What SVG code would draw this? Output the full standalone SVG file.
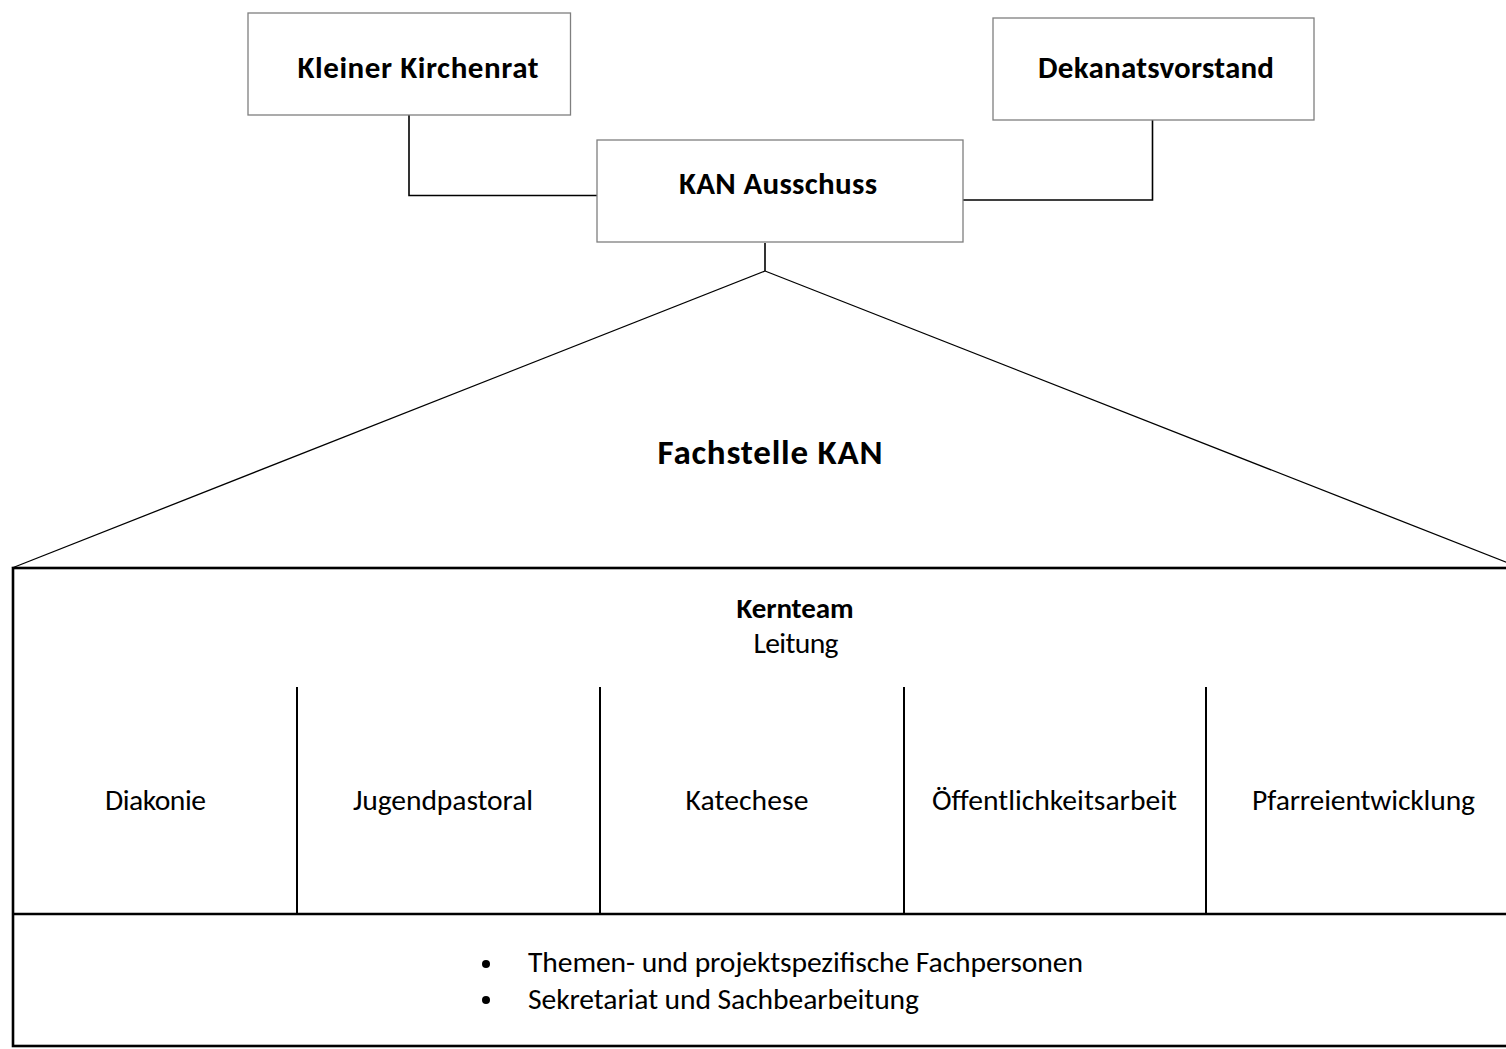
<svg xmlns="http://www.w3.org/2000/svg" width="1506" height="1049" viewBox="0 0 1506 1049">
<style>
  .box { fill: #ffffff; stroke: #7f7f7f; stroke-width: 1.3; }
  .conn { fill: none; stroke: #000000; stroke-width: 1.6; }
  .tri { fill: none; stroke: #000000; stroke-width: 1.3; }
  .frame { fill: none; stroke: #000000; stroke-width: 2.6; }
  .div { fill: none; stroke: #000000; stroke-width: 2; }
  text { font-family: Carlito, Lato, "Open Sans", sans-serif; fill: #000000; }
  .b { font-weight: bold; font-size: 31px; }
  .big { font-weight: bold; font-size: 35px; }
  .r { font-size: 29.6px; }
</style>
<rect width="1506" height="1049" fill="#ffffff"/>
<g id="connectors">
  <polyline class="conn" points="409,115 409,195.5 597,195.5"/>
  <polyline class="conn" points="1152.5,120 1152.5,200 963,200"/>
  <line class="conn" x1="765" y1="243" x2="765" y2="271"/>
  <line class="tri" x1="765" y1="271" x2="12" y2="568"/>
  <line class="tri" x1="765" y1="271" x2="1521" y2="568"/>
</g>
<g id="kleiner-kirchenrat">
  <rect class="box" x="248" y="13" width="322.5" height="102"/>
  <text class="b" x="418" y="78" text-anchor="middle" textLength="241">Kleiner Kirchenrat</text>
</g>
<g id="dekanatsvorstand">
  <rect class="box" x="993" y="18" width="321" height="102"/>
  <text class="b" x="1156" y="78" text-anchor="middle" textLength="236">Dekanatsvorstand</text>
</g>
<g id="kan-ausschuss">
  <rect class="box" x="597" y="140" width="366" height="102"/>
  <text class="b" x="778" y="194" text-anchor="middle" textLength="198">KAN Ausschuss</text>
</g>
<g id="fachstelle-kan">
  <text class="big" x="770" y="464" text-anchor="middle" textLength="225">Fachstelle KAN</text>
</g>
<g id="kernteam">
  <rect class="frame" x="13" y="568" width="1500" height="478"/>
  <line class="frame" x1="13" y1="914" x2="1510" y2="914"/>
  <text class="b" x="795" y="618" text-anchor="middle" textLength="117" style="font-size:29px">Kernteam</text>
  <text class="r" x="796" y="653" text-anchor="middle" textLength="85">Leitung</text>
</g>
<g id="fachbereiche">
  <line class="div" x1="297" y1="687" x2="297" y2="914"/>
  <line class="div" x1="600" y1="687" x2="600" y2="914"/>
  <line class="div" x1="904" y1="687" x2="904" y2="914"/>
  <line class="div" x1="1206" y1="687" x2="1206" y2="914"/>
  <text class="r" x="155.5" y="810" text-anchor="middle" textLength="101">Diakonie</text>
  <text class="r" x="443" y="810" text-anchor="middle" textLength="180">Jugendpastoral</text>
  <text class="r" x="747" y="810" text-anchor="middle" textLength="123">Katechese</text>
  <text class="r" x="1054.5" y="810" text-anchor="middle" textLength="245">Öffentlichkeitsarbeit</text>
  <text class="r" x="1363.5" y="810" text-anchor="middle" textLength="223">Pfarreientwicklung</text>
</g>
<g id="fachpersonen">
  <circle cx="486" cy="964" r="4"/>
  <circle cx="486" cy="1000" r="4"/>
  <text class="r" x="528" y="972" textLength="555">Themen- und projektspezifische Fachpersonen</text>
  <text class="r" x="528" y="1009" textLength="391">Sekretariat und Sachbearbeitung</text>
</g>
</svg>
